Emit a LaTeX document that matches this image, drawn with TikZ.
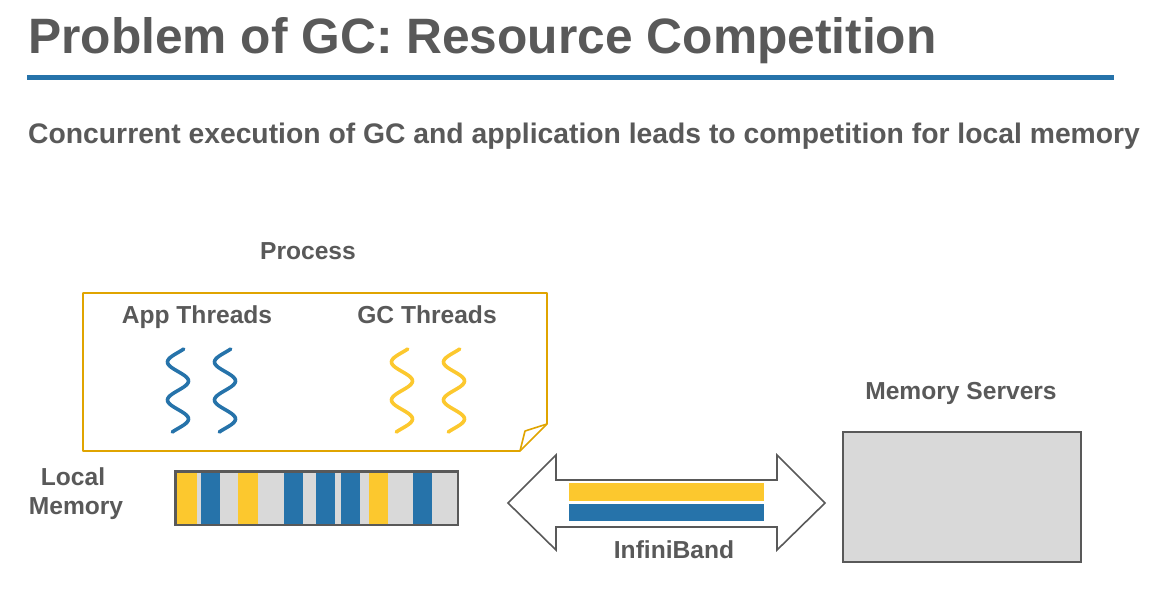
\documentclass[tikz,border=0pt]{standalone}
\usepackage{fontspec}
\setmainfont{Liberation Sans}
\definecolor{txtgray}{HTML}{595959}
\definecolor{ibblue}{HTML}{2673AA}
\definecolor{gcyellow}{HTML}{FCC82E}
\definecolor{procgold}{HTML}{E0A400}
\definecolor{memfill}{HTML}{D9D9D9}
\definecolor{edgegray}{HTML}{595959}
\tikzset{
  lbl/.style={text=txtgray, font=\bfseries\fontsize{24.6}{29}\selectfont, inner sep=0pt},
  memblock/.style={fill=memfill, draw=edgegray, line width=1.6pt},
  thread/.style={line width=3.6pt, line cap=round},
}
\newcommand{\squig}[2]{% #1 = centre x, #2 = colour
  \draw[thread, #2] plot[smooth, domain=-13:70, samples=60, variable=\t]
    ({#1 - 10.5*cos(9.4737*\t)}, {362+\t});}
\begin{document}
\begin{tikzpicture}[x=1pt, y=-1pt]
\useasboundingbox (0,0) rectangle (1149,592);

% heading
\node[anchor=base west, inner sep=0pt, text=txtgray,
      font=\bfseries\fontsize{49.7}{56}\selectfont] (title) at (28,53) {Problem of GC: Resource Competition};
\fill[ibblue] (27,75) rectangle (1114,79.5);
\node[anchor=base west, inner sep=0pt, text=txtgray,
      font=\bfseries\fontsize{28.3}{33}\selectfont] (sub) at (28,143)
  {Concurrent execution of GC and application leads to competition for local memory};

% process box with folded corner
\node[lbl, anchor=base] (proc) at (308,259) {Process};
\draw[procgold, line width=1.6pt, line join=round]
  (83,293) -- (547,293) -- (547,424) -- (520,451) -- (83,451) -- cycle;
\draw[procgold, line width=1.6pt, line join=round]
  (520,451) -- (525,431) -- (547,424);

\node[lbl, anchor=base] (app) at (197,323) {App Threads};
\node[lbl, anchor=base] (gct) at (427,323) {GC Threads};

\squig{178}{ibblue}
\squig{225}{ibblue}
\squig{402}{gcyellow}
\squig{454}{gcyellow}

% local memory strip
\node[lbl, anchor=base] (lm) at (73,485) {Local};
\node[lbl, anchor=base] (lm2) at (76,514) {Memory};
\node[memblock, minimum width=282pt, minimum height=53pt, inner sep=0pt, anchor=north west] (local) at (175,471) {};
\foreach \a/\b in {177/197, 238/258, 369/388}
  \fill[gcyellow] (\a,472.5) rectangle (\b,523.5);
\foreach \a/\b in {201/220, 284/303, 316/335, 341/360, 413/432}
  \fill[ibblue] (\a,472.5) rectangle (\b,523.5);
\draw[edgegray, line width=1.6pt] (local.north west) rectangle (local.south east);

% InfiniBand double arrow
\draw[edgegray, line width=1.6pt, fill=white, line join=miter]
  (508,503) -- (556,455) -- (556,480) -- (777,480) -- (777,455) -- (825,503)
  -- (777,550) -- (777,527) -- (556,527) -- (556,550) -- cycle;
\fill[gcyellow] (569,483) rectangle (764,501);
\fill[ibblue] (569,504) rectangle (764,521);
\node[lbl, anchor=base, fill=white, inner sep=1pt] (ib) at (674,558) {InfiniBand};

% memory servers
\node[lbl, anchor=base] (msl) at (961,399) {Memory Servers};
\node[memblock, minimum width=238pt, minimum height=130pt, inner sep=0pt, anchor=north west] (ms) at (842,431) {};
\end{tikzpicture}
\end{document}
